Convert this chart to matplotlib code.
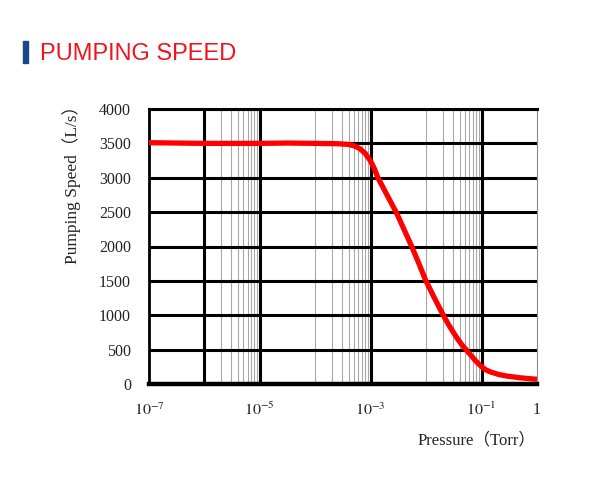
import numpy as np
import matplotlib
matplotlib.use("Agg")
import matplotlib.pyplot as plt
from matplotlib.patches import Rectangle

# ---- data ----
log_pressure = [-7.0, -6.5, -6.0, -5.5, -5.0, -4.5, -4.0, -3.6, -3.4, -3.3, -3.2,
                -3.1, -3.0, -2.93, -2.87, -2.7, -2.535, -2.4, -2.26, -2.13, -2.01,
                -1.85, -1.69, -1.6, -1.52, -1.44, -1.36, -1.27, -1.18, -1.1,
                -1.0, -0.92, -0.85, -0.7, -0.55, -0.3, 0.0]
pumping_speed = [3510, 3505, 3500, 3500, 3500, 3505, 3500, 3495, 3485, 3465, 3425,
                 3355, 3240, 3125, 3000, 2740, 2490, 2250, 2000, 1750, 1510,
                 1250, 1000, 870, 765, 665, 575, 490, 405, 330,
                 252, 205, 179, 140, 116, 90, 68]
pressure = [10 ** v for v in log_pressure]

xtick_values = [1e-7, 1e-5, 1e-3, 1e-1, 1]
xtick_labels = ['$10^{-7}$', '$10^{-5}$', '$10^{-3}$', '$10^{-1}$', '1']
ytick_values = list(range(0, 4001, 500))
ytick_labels = [str(v) for v in ytick_values]

title = "PUMPING SPEED"
xlabel = "Pressure\uff08Torr\uff09"
ylabel = "Pumping Speed\uff08L/s\uff09"

# grid structure (style)
thick_decades = [1e-6, 1e-5, 1e-3, 1e-1]
thin_decades = [1e-4, 1e-2]
minor_decades = [1e-6, 1e-4, 1e-2]

plt.rcParams['mathtext.fontset'] = 'stix'
serif = ['Liberation Serif', 'Noto Sans CJK SC', 'DejaVu Serif']

fig = plt.figure(figsize=(6.14, 4.96), dpi=100)
fig.patch.set_facecolor('white')
ax = fig.add_axes([149 / 614, 1 - 384 / 496, (537 - 149) / 614, (384 - 109) / 496])
ax.set_xscale('log')
ax.set_xlim(1e-7, 1)
ax.set_ylim(0, 4000)

# minor vertical lines
for d in minor_decades:
    for m in range(2, 10):
        ax.axvline(d * m, color='#a8a8a8', lw=0.8, zorder=1)
for d in thin_decades:
    ax.axvline(d, color='#a8a8a8', lw=0.8, zorder=1)
for d in thick_decades:
    ax.axvline(d, color='black', lw=2.2, zorder=2)
for v in ytick_values[1:]:
    ax.axhline(v, color='black', lw=2.2, zorder=2)

ax.plot(pressure, pumping_speed, color='#ff0000', lw=3.8, zorder=5,
        solid_capstyle='butt', solid_joinstyle='round')

ax.set_xticks(xtick_values)
ax.set_xticklabels(xtick_labels)
ax.xaxis.set_minor_locator(matplotlib.ticker.NullLocator())
ax.set_yticks(ytick_values)
ax.set_yticklabels(ytick_labels)
ax.tick_params(axis='both', length=0, labelsize=11.5, colors='#222222')
ax.tick_params(axis='y', pad=13)
ax.tick_params(axis='x', pad=13)
for lab in ax.get_xticklabels() + ax.get_yticklabels():
    lab.set_family(serif)

ax.spines['left'].set_linewidth(2.0)
ax.spines['left'].set_color('black')
ax.spines['top'].set_linewidth(2.2)
ax.spines['top'].set_color('black')
ax.spines['right'].set_linewidth(0.8)
ax.spines['right'].set_color('#888888')
ax.spines['bottom'].set_linewidth(3.2)
ax.spines['bottom'].set_color('black')

fig.text(536 / 614, 1 - 440 / 496, xlabel, ha='right', va='center',
         fontsize=12, family=serif, color='#222222')
fig.text(72 / 614, 1 - 181 / 496, ylabel, ha='center', va='center',
         rotation=90, fontsize=12.5, family=serif, color='#222222')

# title with blue bar
fig.patches.append(Rectangle((23 / 614, 1 - 63 / 496), 5 / 614, 22 / 496,
                             transform=fig.transFigure, color='#1b4786'))
fig.text(40 / 614, 1 - 59.5 / 496, title, ha='left', va='baseline',
         fontsize=17, family=['Liberation Sans', 'DejaVu Sans'], color='#f0141e')

fig.savefig('out.png', dpi=100, facecolor='white')
